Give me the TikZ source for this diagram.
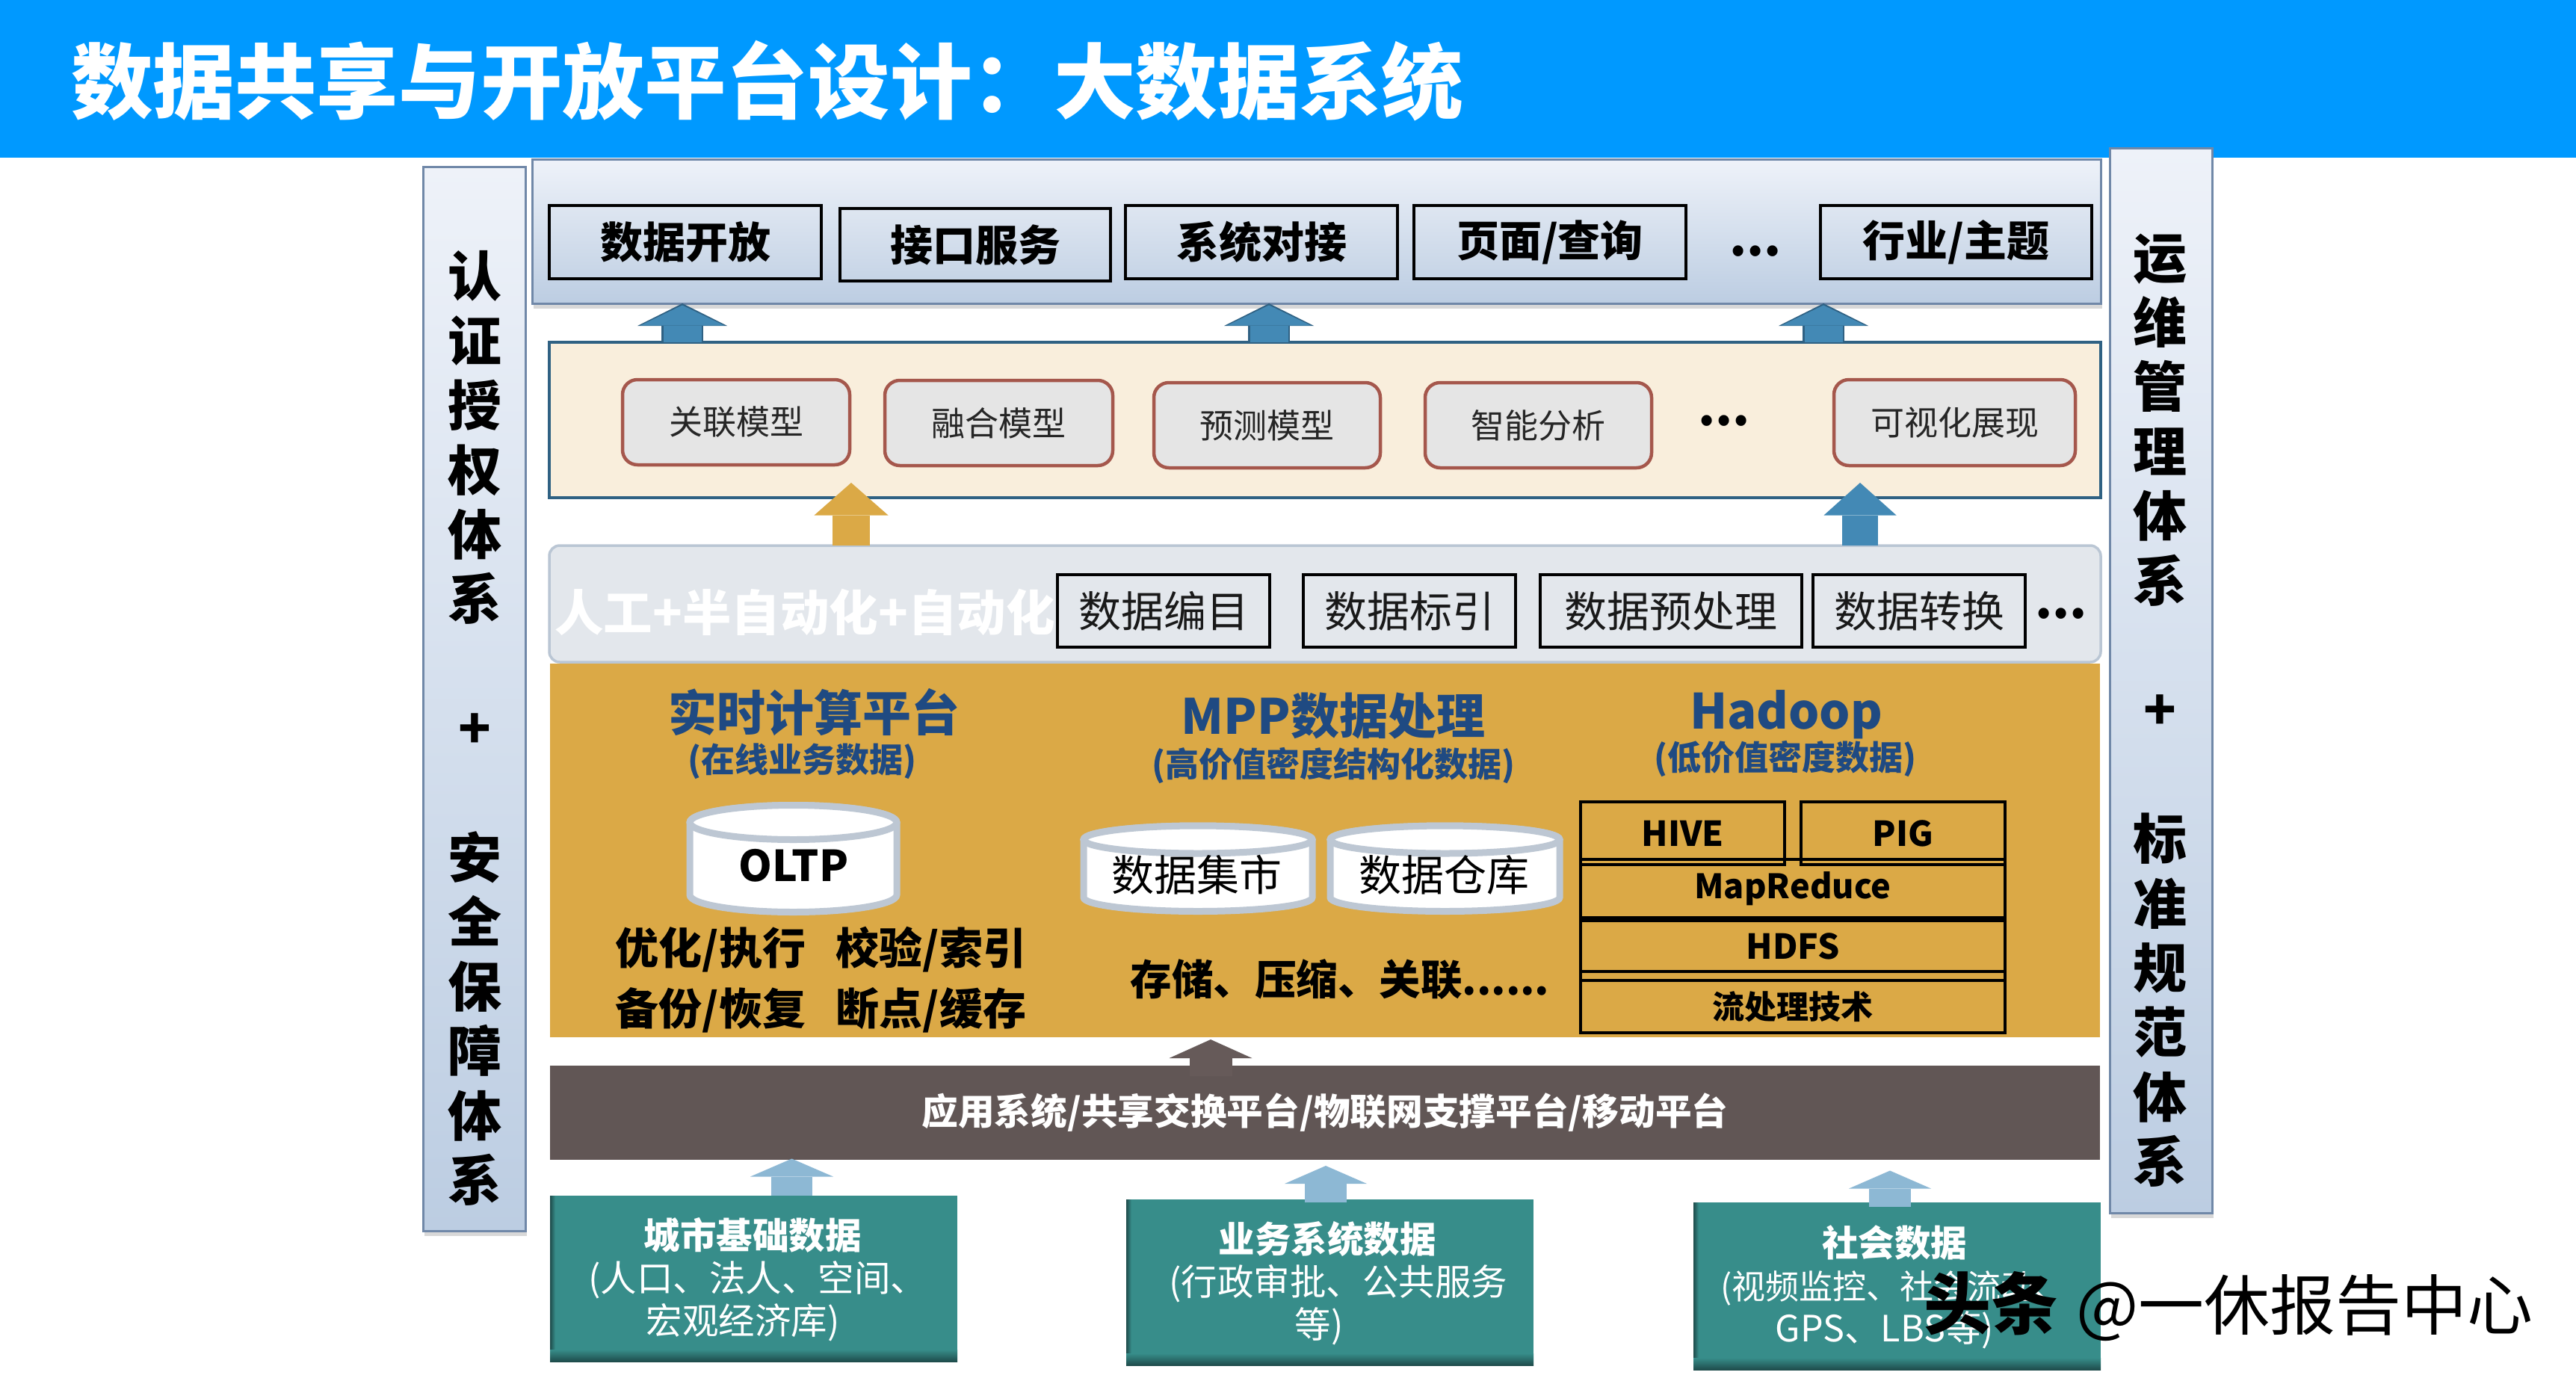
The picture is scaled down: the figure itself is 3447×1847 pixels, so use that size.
\documentclass[tikz,border=0pt]{standalone}
\usepackage{fontspec}
\setmainfont{Noto Sans CJK SC}
\usetikzlibrary{arrows.meta,shadows,calc}
\definecolor{hdr}{HTML}{0099FF}
\definecolor{bartop}{HTML}{EEF2F9}
\definecolor{barbot}{HTML}{BCCDE2}
\definecolor{barline}{HTML}{7088A8}
\definecolor{btntop}{HTML}{DEE6F1}
\definecolor{btnbot}{HTML}{C6D4E6}
\definecolor{modelfill}{HTML}{F9EEDC}
\definecolor{modelline}{HTML}{2F6183}
\definecolor{roundline}{HTML}{A5574C}
\definecolor{roundfill}{HTML}{E5E5E5}
\definecolor{procfill}{HTML}{E3E7EC}
\definecolor{procline}{HTML}{BAC6D4}
\definecolor{gold}{HTML}{DBA946}
\definecolor{navy}{HTML}{1F4A82}
\definecolor{brown}{HTML}{615655}
\definecolor{brownar}{HTML}{665A59}
\definecolor{teal}{HTML}{378D8A}
\definecolor{tealdk}{HTML}{1E4C4B}
\definecolor{ablue}{HTML}{4389B5}
\definecolor{lblue}{HTML}{8DB8D4}
\definecolor{cylline}{HTML}{BDC7D3}
\newcommand\fsz[1]{\fontsize{#1}{#1}\selectfont}
\newcommand\bx[7][]{%
  \pgfmathsetmacro\bxcx{(#3+#5)/2}\pgfmathsetmacro\bxcy{(#4+#6)/2}%
  \pgfmathsetmacro\bxw{#5-#3}\pgfmathsetmacro\bxh{#6-#4}%
  \node[#1,minimum width=\bxw pt,minimum height=\bxh pt,inner sep=0pt,outer sep=0pt] (#2) at (\bxcx,\bxcy) {#7};}
% cylinder: x1 x2 top-ellipse-centre bottom-ellipse-centre ry
\newcommand\cyl[5]{%
  \pgfmathsetmacro\cyrx{(#2-#1)/2}\pgfmathsetmacro\cycx{(#1+#2)/2}%
  \filldraw[cylpath] (#1,#3) -- (#1,#4) arc[start angle=180,end angle=360,x radius=\cyrx pt,y radius=#5pt] -- (#2,#3) arc[start angle=0,end angle=180,x radius=\cyrx pt,y radius=#5pt] -- cycle;
  \filldraw[cylpath] (\cycx,#3) ellipse[x radius=\cyrx pt,y radius=#5pt];}
\tikzset{
  txt/.style={inner sep=0pt,outer sep=0pt,align=center},
  sidebar/.style={draw=barline,line width=3pt,top color=bartop,bottom color=barbot,
    drop shadow={shadow xshift=2pt,shadow yshift=-7pt,opacity=.3}},
  topbtn/.style={draw=black,line width=3.5pt,top color=btntop,bottom color=btnbot,font=\fsz{57}\bfseries},
  modelbox/.style={draw=roundline,line width=4.5pt,fill=roundfill,rounded corners=20pt,font=\fsz{45},text=black!85},
  procbox/.style={draw=black,line width=3.5pt,font=\fsz{57},text=black!90},
  hbox/.style={draw=black,line width=3.2pt},
  tealbox/.style={fill=teal},
  cylpath/.style={draw=cylline,line width=9pt,fill=white},
  tealtxt/.style={txt,text=white,font=\fontsize{48.5}{57}\selectfont},
  ttl/.style={txt,text=navy,font=\fsz{65}\bfseries},
  subttl/.style={txt,text=navy,font=\fsz{45}\bfseries},
  dark/.style={txt,font=\fsz{58}\bfseries,text=black},
  dots/.style={txt,font=\fsz{66}\bfseries,text=black},
  sidetxt/.style={txt,font=\fontsize{72}{86.4}\selectfont\bfseries},
  blockar/.style n args={3}{line width=#1pt,-{Triangle[length=#2pt,width=#3pt,line width=0pt]}},
}
\newcommand\tealedge[1]{%
  \fill[left color=tealdk,right color=teal] (#1.north west) rectangle ([xshift=7pt]#1.south west);
  \fill[top color=teal,bottom color=tealdk] ([yshift=16pt]#1.south west) rectangle (#1.south east);}
\begin{document}
\begin{tikzpicture}[x=1pt,y=-1pt]
\useasboundingbox (0,0) rectangle (3447,1847);
\fill[white] (0,0) rectangle (3447,1847);
% header
\bx[fill=hdr]{header}{0}{0}{3447}{211}{}
\node[txt,anchor=west,text=white,font=\fsz{109.6}\bfseries] (title) at (95,108) {数据共享与开放平台设计：大数据系统};
% side bars
\bx[sidebar]{leftbar}{566}{223}{703}{1647}{}
\node[sidetxt] (lefttxt) at (635,974.5) {认\\证\\授\\权\\体\\系\\~\\+\\~\\安\\全\\保\\障\\体\\系};
\bx[sidebar]{rightbar}{2823}{198}{2960}{1623}{}
\node[sidetxt] (righttxt) at (2890,950.5) {运\\维\\管\\理\\体\\系\\~\\+\\~\\标\\准\\规\\范\\体\\系};
% top panel
\bx[sidebar]{toppanel}{712}{213}{2811}{406}{}
\bx[topbtn]{b1}{735}{275}{1099}{373}{数据开放}
\bx[topbtn]{b2}{1124}{279}{1486}{376}{接口服务}
\bx[topbtn]{b3}{1506}{275}{1870}{373}{系统对接}
\bx[topbtn]{b4}{1892}{275}{2256}{373}{页面/查询}
\node[dots] (d1) at (2349,336) {...};
\bx[topbtn]{b5}{2436}{275}{2799}{373}{行业/主题}
% model panel
\bx[draw=modelline,line width=4.5pt,fill=modelfill]{modelpanel}{735}{458}{2811}{666}{}
\bx[modelbox]{m1}{833}{508}{1137}{622}{关联模型}
\bx[modelbox]{m2}{1184}{509}{1489}{623}{融合模型}
\bx[modelbox]{m3}{1544}{512}{1847}{626}{预测模型}
\bx[modelbox]{m4}{1907}{512}{2210}{626}{智能分析}
\node[dots] (d2) at (2307,563) {...};
\bx[modelbox]{m5}{2454}{508}{2777}{623}{可视化展现}
% process panel
\bx[draw=procline,line width=3.5pt,fill=procfill,rounded corners=14pt]{procpanel}{735}{730}{2811}{886}{}
\node[txt,text=white,font=\fsz{65.5}\bfseries] (autotxt) at (1077,819) {人工+半自动化+自动化};
\bx[procbox]{p1}{1415}{769}{1699}{866}{数据编目}
\bx[procbox]{p2}{1744}{769}{2028}{866}{数据标引}
\bx[procbox]{p3}{2061}{769}{2411}{866}{数据预处理}
\bx[procbox]{p4}{2426}{769}{2710}{866}{数据转换}
\node[dots] (d3) at (2758,821) {...};
% gold panel
\bx[fill=gold]{goldpanel}{736}{888}{2810}{1388}{}
\node[ttl] (t1) at (1089,953) {实时计算平台};
\node[subttl] (s1) at (1073,1019) {(在线业务数据)};
\node[ttl] (t2) at (1784,958) {MPP数据处理};
\node[subttl] (s2) at (1784,1025) {(高价值密度结构化数据)};
\node[ttl] (t3) at (2390,956) {Hadoop};
\node[subttl] (s3) at (2389,1016) {(低价值密度数据)};
\cyl{923}{1200}{1100.5}{1197.5}{23}
\node[txt,font=\fsz{57}\bfseries] (oltp) at (1062,1158) {OLTP};
\cyl{1450}{1756}{1123.5}{1201}{18.5}
\node[txt,font=\fsz{57}] (mart) at (1601,1171) {数据集市};
\cyl{1780}{2087}{1123.5}{1201}{18.5}
\node[txt,font=\fsz{57}] (wh) at (1932,1171) {数据仓库};
\node[dark] (r1) at (951,1271) {优化/执行};
\node[dark] (r2) at (1246,1271) {校验/索引};
\node[dark] (r3) at (951,1352) {备份/恢复};
\node[dark] (r4) at (1246,1352) {断点/缓存};
\node[dark,font=\fsz{55.5}\bfseries] (r5) at (1793,1311) {存储、压缩、关联......};
\bx[hbox,font=\fsz{46}\bfseries]{hive}{2115}{1073}{2388}{1157}{HIVE}
\bx[hbox,font=\fsz{46}\bfseries]{pig}{2410}{1073}{2683}{1157}{PIG}
\bx[hbox,font=\fsz{45}\bfseries]{mr}{2115}{1150}{2683}{1228}{\raisebox{-6pt}{MapReduce}}
\bx[hbox,font=\fsz{46}\bfseries]{hdfs}{2115}{1232}{2683}{1300}{\raisebox{-2pt}{HDFS}}
\bx[hbox,font=\fsz{43}\bfseries]{stream}{2115}{1312}{2683}{1382}{\raisebox{4pt}{流处理技术}}
\draw[hbox] (hdfs.south west) -- (stream.north west) (hdfs.south east) -- (stream.north east);
% brown bar
\bx[fill=brown,text=white,font=\fsz{48.7}\bfseries]{platform}{736}{1426}{2810}{1552}{应用系统/共享交换平台/物联网支撑平台/移动平台}
% teal boxes
\bx[tealbox]{ta}{736}{1600}{1281}{1822}{}
\tealedge{ta}
\node[tealtxt] (tat) at (1007,1712) {{\bfseries 城市基础数据}\\\hspace*{14pt}(人口、法人、空间、\\宏观经济库)\hspace*{26pt}};
\bx[tealbox]{tb}{1507}{1605}{2052}{1827}{}
\tealedge{tb}
\node[tealtxt] (tbt) at (1791,1717) {{\bfseries 业务系统数据}\hspace*{30pt}\\(行政审批、公共服务\\等)\hspace*{52pt}};
\bx[tealbox]{tc}{2266}{1609}{2811}{1833}{}
\tealedge{tc}
\node[tealtxt] (tct) at (2535,1722) {{\bfseries 社会数据}\\{\fontsize{45}{57}\selectfont (视频监控、社会流动、}\\GPS、LBS等)\hspace*{26pt}};
% arrows
\foreach \nm/\ax in {a/913,b/1698,c/2440}{
  \draw[blockar={56}{30}{120},modelline] (modelpanel.north -| \ax,0) -- (toppanel.south -| \ax,0);
  \draw[blockar={51}{27}{112},ablue] (modelpanel.north -| \ax,0) -- ([yshift=-2.5pt]toppanel.south -| \ax,0);
}
\coordinate (goldtip) at (1139,646);
\draw[blockar={50}{43.5}{99},gold] (procpanel.north -| goldtip) -- (goldtip);
\coordinate (bluetip) at (2489,646);
\draw[blockar={48}{43.5}{97},ablue] (procpanel.north -| bluetip) -- (bluetip);
\coordinate (browntip) at (1620,1391);
\coordinate (brownfoot) at (1620,1440);
\draw[blockar={57}{25}{111},brownar] (brownfoot) -- (browntip);
\coordinate (latip) at (1059.5,1550.5);
\draw[blockar={55}{24}{111},lblue] (ta.north -| latip) -- (latip);
\coordinate (lbtip) at (1774,1560);
\coordinate (lbfoot) at (1774,1609);
\draw[blockar={56}{24}{110},lblue] (lbfoot) -- (lbtip);
\coordinate (lctip) at (2529,1566.5);
\coordinate (lcfoot) at (2529,1615);
\draw[blockar={56}{24}{110},lblue] (lcfoot) -- (lctip);
% watermark
\node[txt,font=\fsz{90}\bfseries] (wm1) at (2664,1744) {头条};
\node[txt,font=\fsz{88}\fontspec{Noto Sans CJK SC}] (wm2) at (3084,1750) {@一休报告中心};
\end{tikzpicture}
\end{document}
